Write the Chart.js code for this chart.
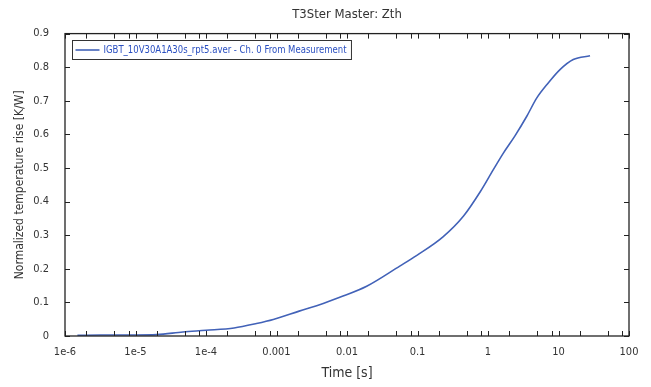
<!DOCTYPE html>
<html>
<head>
<meta charset="utf-8">
<script src="https://cdn.jsdelivr.net/npm/chart.js@4/dist/chart.umd.min.js"></script>
<style>
  html, body { margin: 0; padding: 0; background: #fff; }
  #wrap { width: 651px; height: 387px; }
</style>
</head>
<body>
<div id="wrap"><canvas id="zth" width="651" height="387"></canvas></div>
<script>
// values
var timeS = [1.5e-6, 3.2e-6, 1e-5, 2e-5, 4.7e-5, 1e-4, 2.5e-4, 5.2e-4, 9e-4, 2.1e-3, 4.6e-3, 7.9e-3,
             0.019, 0.056, 0.098, 0.23, 0.45, 0.78, 1.19, 1.66, 2.4, 3.55, 4.9, 7.2, 10.5, 16.2, 28];
var zth   = [0.002, 0.003, 0.003, 0.004, 0.012, 0.017, 0.024, 0.037, 0.049, 0.074, 0.097, 0.115,
             0.148, 0.208, 0.240, 0.295, 0.357, 0.430, 0.495, 0.545, 0.595, 0.654, 0.708, 0.754, 0.793, 0.823, 0.834];
var decades = [1e-6, 1e-5, 1e-4, 0.001, 0.01, 0.1, 1, 10, 100];
var decadeLabels = ['1e-6', '1e-5', '1e-4', '0.001', '0.01', '0.1', '1', '10', '100'];
var minorSteps = [2, 5, 8];
var seriesName = 'IGBT_10V30A1A30s_rpt5.aver - Ch. 0 From Measurement';

var FONT = "'DejaVu Sans Condensed', 'DejaVu Sans', sans-serif";
var TXT = '#333';
var LINE = '#4262b8';

var points = timeS.map(function (t, i) { return { x: t, y: zth[i] }; });

// inward tick marks on all four sides, frame, and the boxed legend inside the plot
var framePlugin = {
  id: 'frame',
  afterDraw: function (chart) {
    var ctx = chart.ctx, a = chart.chartArea;
    var xs = chart.scales.x, ys = chart.scales.y;
    ctx.save();
    ctx.strokeStyle = '#222';
    ctx.lineWidth = 1;
    ctx.beginPath();
    xs.ticks.forEach(function (t) {
      var px = Math.round(xs.getPixelForValue(t.value)) + 0.5;
      ctx.moveTo(px, a.bottom); ctx.lineTo(px, a.bottom - 5);
      ctx.moveTo(px, a.top); ctx.lineTo(px, a.top + 5);
    });
    ys.ticks.forEach(function (t) {
      var py = Math.round(ys.getPixelForValue(t.value)) + 0.5;
      ctx.moveTo(a.left, py); ctx.lineTo(a.left + 5, py);
      ctx.moveTo(a.right, py); ctx.lineTo(a.right - 5, py);
    });
    ctx.stroke();
    ctx.lineWidth = 1.3;
    ctx.strokeRect(a.left, a.top, a.right - a.left, a.bottom - a.top);

    // legend (text slightly condensed to match the narrow original font)
    var ds = chart.data.datasets[0];
    var sx = 0.9;
    ctx.font = '10.5px ' + FONT;
    var tw = ctx.measureText(ds.label).width * sx;
    var bx = Math.round(a.left) + 7.5, by = Math.round(a.top) + 6.5;
    var bw = 31 + tw + 5, bh = 19;
    ctx.fillStyle = '#fff';
    ctx.fillRect(bx, by, bw, bh);
    ctx.strokeStyle = '#333';
    ctx.lineWidth = 1;
    ctx.strokeRect(bx, by, bw, bh);
    ctx.strokeStyle = ds.borderColor;
    ctx.lineWidth = 1.6;
    ctx.beginPath();
    ctx.moveTo(bx + 3, by + bh / 2); ctx.lineTo(bx + 27, by + bh / 2);
    ctx.stroke();
    ctx.fillStyle = '#2a4fc0';
    ctx.textBaseline = 'middle';
    ctx.translate(bx + 31, by + bh / 2 + 0.5);
    ctx.scale(sx, 1);
    ctx.fillText(ds.label, 0, 0);
    ctx.restore();
  }
};

new Chart(document.getElementById('zth'), {
  type: 'line',
  data: {
    datasets: [{
      label: seriesName,
      data: points,
      borderColor: LINE,
      backgroundColor: LINE,
      borderWidth: 1.6,
      pointRadius: 0,
      cubicInterpolationMode: 'monotone'
    }]
  },
  options: {
    responsive: false,
    animation: false,
    layout: { padding: { right: 22 } },
    plugins: {
      title: {
        display: true,
        text: 'T3Ster Master: Zth',
        fullSize: false,
        color: TXT,
        font: { family: FONT, size: 13, weight: 'normal' },
        padding: { top: 7, bottom: 11 }
      },
      legend: { display: false },
      tooltip: { enabled: false }
    },
    scales: {
      x: {
        type: 'logarithmic',
        min: 1e-6,
        max: 100,
        afterBuildTicks: function (scale) {
          var list = [];
          decades.forEach(function (d, i) {
            list.push({ value: d });
            if (i < decades.length - 1) minorSteps.forEach(function (m) { list.push({ value: d * m }); });
          });
          scale.ticks = list;
        },
        afterFit: function (scale) { scale.height = 51; },
        grid: { display: false, drawTicks: false },
        border: { display: false },
        ticks: {
          autoSkip: false,
          maxRotation: 0,
          padding: 10,
          color: TXT,
          font: { family: FONT, size: 11 },
          callback: function (v) {
            var i = decades.findIndex(function (d) { return Math.abs(Math.log10(d) - Math.log10(v)) < 1e-6; });
            return i >= 0 ? decadeLabels[i] : '';
          }
        },
        title: {
          display: true,
          text: 'Time [s]',
          color: TXT,
          font: { family: FONT, size: 14 },
          padding: { top: 0, bottom: 5 }
        }
      },
      y: {
        min: 0,
        max: 0.9,
        afterFit: function (scale) { scale.width = 65; },
        grid: { display: false, drawTicks: false },
        border: { display: false },
        ticks: {
          stepSize: 0.1,
          padding: 16,
          color: TXT,
          font: { family: FONT, size: 11 },
          callback: function (v) { return String(+v.toFixed(1)); }
        },
        title: {
          display: true,
          text: 'Normalized temperature rise [K/W]',
          color: TXT,
          font: { family: FONT, size: 12 },
          padding: { top: 13, bottom: 0 }
        }
      }
    }
  },
  plugins: [framePlugin]
});
</script>
</body>
</html>
